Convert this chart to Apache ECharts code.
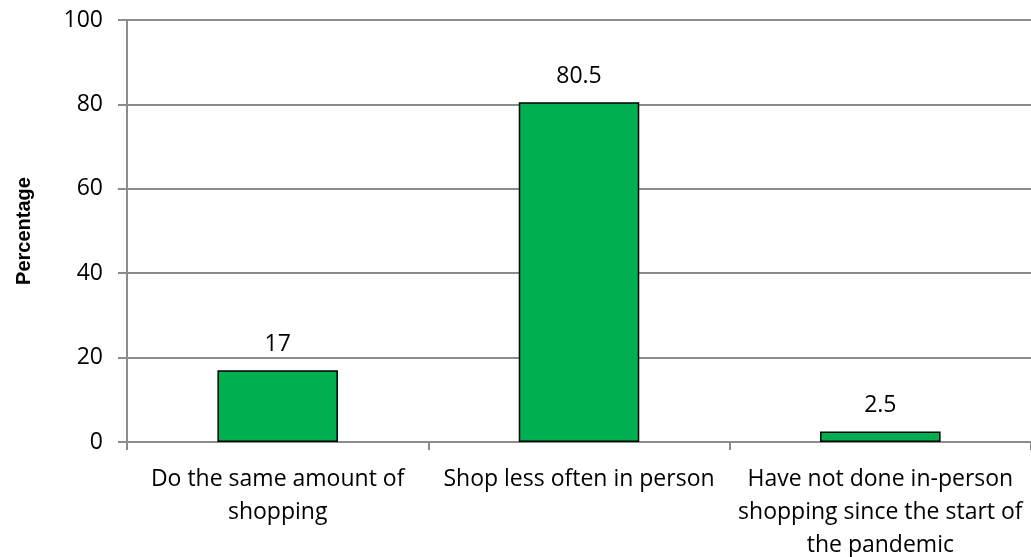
<!DOCTYPE html>
<html>
<head>
<meta charset="utf-8">
<script src="https://cdn.jsdelivr.net/npm/echarts@6/dist/echarts.min.js"></script>
<style>
  html, body { margin: 0; padding: 0; background: #fff; }
  #chart { width: 1031px; height: 557px; }
</style>
</head>
<body>
<div id="chart"></div>
<script>
// Survey responses about in-person shopping habits
const categories = [
  'Do the same amount of\nshopping',
  'Shop less often in person',
  'Have not done in-person\nshopping since the start of\nthe pandemic'
];
const percentages = [17, 80.5, 2.5];
const yTicks = [0, 20, 40, 60, 80, 100];

const axisGray = '#8c8c8c';
const textFont = '"Open Sans", "Noto Sans", sans-serif';

const chart = echarts.init(document.getElementById('chart'), null, { renderer: 'canvas' });
chart.setOption({
  animation: false,
  grid: { left: 127, right: 0, top: 20, bottom: 115, containLabel: false, outerBoundsMode: 'none' },
  xAxis: {
    type: 'category',
    data: categories,
    axisLine: { show: true, lineStyle: { color: axisGray, width: 2 } },
    axisTick: { show: true, alignWithLabel: false, length: 8, lineStyle: { color: axisGray, width: 2 } },
    axisLabel: {
      interval: 0,
      margin: 21,
      color: '#000',
      fontFamily: textFont,
      fontSize: 23,
      lineHeight: 33,
      align: 'center'
    }
  },
  yAxis: {
    type: 'value',
    min: yTicks[0],
    max: yTicks[yTicks.length - 1],
    interval: 20,
    name: 'Percentage',
    nameLocation: 'middle',
    nameGap: 93,
    nameRotate: 90,
    nameTextStyle: {
      fontFamily: '"Liberation Sans", Arial, sans-serif',
      fontWeight: 'bold',
      fontSize: 20,
      color: '#000'
    },
    axisLine: { show: true, lineStyle: { color: axisGray, width: 2 } },
    axisTick: { show: true, length: 9, lineStyle: { color: axisGray, width: 2 } },
    splitLine: { show: true, lineStyle: { color: axisGray, width: 2 } },
    axisLabel: {
      margin: 24,
      color: '#000',
      fontFamily: textFont,
      fontSize: 23
    }
  },
  series: [{
    type: 'bar',
    data: percentages,
    barWidth: '40%',
    itemStyle: { color: '#00b050', borderColor: '#000', borderWidth: 1.5 },
    label: {
      show: true,
      position: 'top',
      distance: 14,
      color: '#000',
      fontFamily: textFont,
      fontSize: 23
    }
  }]
});
</script>
</body>
</html>
